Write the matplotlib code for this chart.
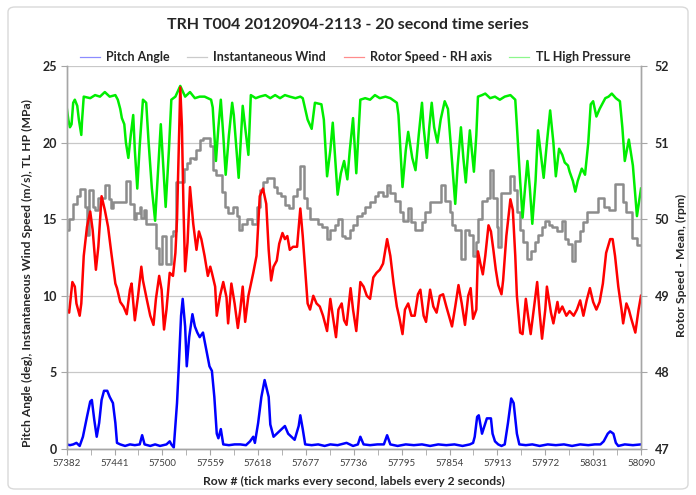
import numpy as np
import matplotlib.pyplot as plt
from matplotlib.lines import Line2D
from matplotlib.patches import FancyBboxPatch
from matplotlib.ticker import MultipleLocator, FixedLocator

plt.rcParams['font.family'] = ['Lato', 'DejaVu Sans']

# Pitch angle (deg), left axis
pitch_rows = [57382, 57386, 57390, 57394, 57398, 57402, 57407, 57411, 57413, 57416, 57419,
              57422, 57425, 57428, 57432, 57435, 57439, 57442, 57444, 57448, 57454, 57460,
              57466, 57472, 57475, 57478, 57485, 57491, 57497, 57505, 57509, 57511, 57514,
              57518, 57520, 57523, 57525, 57528, 57530, 57533, 57537, 57540, 57543, 57546,
              57550, 57554, 57558, 57561, 57564, 57567, 57569, 57572, 57575, 57582, 57589,
              57596, 57603, 57608, 57612, 57614, 57618, 57622, 57626, 57631, 57633, 57637,
              57641, 57647, 57651, 57655, 57659, 57663, 57668, 57670, 57673, 57676, 57684,
              57692, 57700, 57707, 57716, 57727, 57735, 57741, 57744, 57748, 57756, 57765,
              57773, 57777, 57781, 57790, 57800, 57810, 57820, 57830, 57840, 57850, 57860,
              57870, 57879, 57883, 57885, 57888, 57890, 57894, 57897, 57900, 57905, 57907,
              57910, 57914, 57918, 57922, 57926, 57930, 57933, 57937, 57940, 57948, 57956,
              57965, 57975, 57985, 57995, 58005, 58015, 58025, 58033, 58040, 58044, 58049,
              58052, 58056, 58059, 58062, 58070, 58080, 58090]
pitch_vals = [0.3, 0.25, 0.3, 0.4, 0.2, 0.8, 2.1, 3.1, 3.2, 1.9, 0.8,
              1.7, 3.2, 3.8, 3.8, 3.4, 3.0, 1.7, 0.4, 0.3, 0.2, 0.3,
              0.25, 0.3, 0.9, 0.3, 0.2, 0.3, 0.2, 0.3, 0.5, 0.3, 0.1,
              3.0, 5.2, 8.7, 9.8, 8.0, 5.4, 7.3, 8.8, 8.0, 7.6, 7.3,
              7.6, 6.5, 5.4, 5.1, 3.4, 1.0, 0.7, 1.3, 0.3, 0.25, 0.3,
              0.3, 0.25, 0.5, 0.8, 0.4, 1.7, 3.4, 4.5, 3.4, 1.6, 0.8,
              1.0, 1.3, 1.5, 1.0, 0.8, 0.6, 1.5, 2.2, 1.3, 0.3, 0.25,
              0.3, 0.2, 0.3, 0.25, 0.4, 0.2, 0.3, 0.8, 0.3, 0.25, 0.3,
              0.3, 0.9, 0.3, 0.2, 0.3, 0.25, 0.3, 0.2, 0.3, 0.25, 0.3,
              0.2, 0.3, 0.4, 0.8, 2.1, 2.2, 1.0, 1.5, 2.0, 2.0, 1.0,
              0.5, 0.3, 0.2, 0.3, 1.7, 3.3, 3.0, 1.0, 0.3, 0.25, 0.3,
              0.2, 0.3, 0.25, 0.3, 0.2, 0.3, 0.25, 0.3, 0.3, 0.5, 1.0,
              1.15, 1.0, 0.4, 0.2, 0.3, 0.25, 0.3]

# Instantaneous wind speed (m/s), left axis, stepped
wind_rows = [57382, 57385, 57390, 57395, 57398, 57404, 57407, 57409, 57414, 57417, 57421,
             57429, 57434, 57436, 57439, 57455, 57460, 57465, 57468, 57472, 57474, 57477,
             57480, 57492, 57496, 57500, 57504, 57511, 57513, 57517, 57526, 57530, 57534,
             57539, 57542, 57546, 57550, 57559, 57562, 57566, 57573, 57577, 57581, 57587,
             57592, 57595, 57598, 57604, 57610, 57616, 57620, 57624, 57629, 57637, 57641,
             57646, 57651, 57656, 57661, 57666, 57670, 57674, 57678, 57682, 57692, 57697,
             57703, 57707, 57713, 57717, 57721, 57725, 57731, 57735, 57740, 57746, 57750,
             57756, 57762, 57766, 57772, 57777, 57781, 57787, 57793, 57797, 57803, 57807,
             57811, 57820, 57824, 57830, 57844, 57848, 57854, 57857, 57861, 57868, 57873,
             57878, 57883, 57887, 57889, 57894, 57900, 57904, 57908, 57912, 57914, 57918,
             57929, 57933, 57937, 57941, 57945, 57949, 57954, 57959, 57963, 57968, 57972,
             57976, 57980, 57986, 57992, 57996, 58000, 58005, 58009, 58015, 58019, 58023,
             58037, 58044, 58050, 58058, 58068, 58072, 58079, 58085, 58090]
wind_vals = [14.3, 15.0, 16.0, 16.5, 17.0, 15.8, 14.0, 16.9, 15.8, 15.6, 16.4,
             17.2, 16.3, 15.7, 16.1, 17.5, 16.0, 15.0, 15.4, 15.8, 15.1, 15.6,
             14.7, 13.1, 12.1, 13.9, 12.1, 13.9, 14.2, 17.4, 18.3, 18.7, 19.0,
             18.9, 19.5, 20.2, 20.3, 19.8, 18.2, 17.9, 16.8, 15.8, 15.4, 15.8,
             15.2, 14.3, 14.7, 15.0, 14.7, 15.8, 16.9, 17.4, 17.7, 17.1, 16.7,
             16.5, 15.9, 15.7, 16.5, 17.0, 18.5, 16.4, 15.7, 15.0, 14.7, 14.5,
             13.7, 14.3, 14.6, 15.0, 13.9, 13.8, 14.3, 14.6, 15.2, 15.4, 15.8,
             16.1, 16.5, 16.8, 16.5, 17.2, 16.7, 16.2, 15.5, 14.9, 15.7, 14.8,
             14.3, 14.8, 15.5, 16.1, 17.2, 16.2, 15.5, 14.6, 14.3, 12.4, 14.3,
             14.0, 12.6, 13.5, 15.0, 16.2, 16.4, 18.2, 16.4, 14.5, 13.2, 16.7,
             17.8, 16.9, 15.5, 14.3, 13.5, 12.4, 12.9, 13.5, 14.0, 14.5, 14.9,
             14.6, 14.5, 14.2, 14.9, 13.7, 13.4, 12.3, 13.6, 14.2, 14.8, 15.5,
             16.4, 15.8, 15.6, 17.3, 16.1, 15.5, 13.8, 13.3, 13.3]

# Rotor speed mean (rpm), right axis
rotor_rows = [57382, 57385, 57389, 57392, 57394, 57398, 57400, 57403, 57407, 57411, 57414,
              57418, 57421, 57425, 57429, 57433, 57437, 57442, 57444, 57448, 57452, 57456,
              57460, 57462, 57466, 57470, 57474, 57476, 57481, 57485, 57489, 57492, 57496,
              57499, 57502, 57505, 57509, 57513, 57516, 57518, 57522, 57524, 57526, 57528,
              57531, 57534, 57538, 57542, 57545, 57548, 57552, 57556, 57559, 57561, 57565,
              57567, 57571, 57575, 57579, 57581, 57585, 57589, 57593, 57596, 57599, 57602,
              57606, 57612, 57616, 57620, 57624, 57628, 57631, 57634, 57637, 57641, 57644,
              57648, 57651, 57654, 57657, 57661, 57666, 57670, 57673, 57676, 57679, 57682,
              57686, 57690, 57694, 57698, 57703, 57707, 57710, 57714, 57717, 57721, 57724,
              57727, 57732, 57735, 57739, 57744, 57748, 57752, 57756, 57760, 57764, 57768,
              57772, 57777, 57781, 57785, 57789, 57792, 57796, 57799, 57803, 57807, 57811,
              57815, 57818, 57822, 57825, 57830, 57834, 57838, 57842, 57846, 57850, 57857,
              57861, 57865, 57869, 57873, 57877, 57880, 57883, 57887, 57889, 57892, 57895,
              57898, 57902, 57905, 57908, 57911, 57914, 57918, 57920, 57924, 57929, 57932,
              57935, 57937, 57941, 57944, 57948, 57951, 57954, 57958, 57962, 57965, 57968,
              57972, 57974, 57979, 57982, 57987, 57989, 57993, 57998, 58002, 58007, 58011,
              58015, 58019, 58023, 58027, 58031, 58035, 58039, 58043, 58047, 58052, 58055,
              58058, 58062, 58066, 58068, 58072, 58075, 58078, 58083, 58087, 58090]
rotor_vals = [48.82, 48.78, 49.18, 49.12, 48.90, 48.74, 48.90, 49.52, 49.90, 50.10, 49.86,
              49.34, 49.64, 50.30, 50.12, 49.90, 49.56, 49.16, 49.10, 48.92, 48.86, 48.76,
              49.08, 49.16, 48.68, 49.00, 49.38, 49.20, 48.94, 48.74, 48.62, 48.96, 49.26,
              49.08, 48.56, 48.82, 49.30, 49.26, 49.56, 50.00, 51.72, 51.22, 50.14, 49.32,
              49.70, 50.42, 49.94, 49.60, 49.84, 49.74, 49.52, 49.26, 49.38, 49.30, 49.12,
              48.74, 49.00, 49.18, 48.98, 48.64, 49.16, 48.90, 48.58, 48.82, 49.12, 48.66,
              49.00, 49.30, 49.52, 50.30, 50.40, 50.20, 49.60, 49.20, 49.38, 49.46, 49.68,
              49.82, 49.74, 49.78, 49.60, 49.64, 49.64, 50.14, 49.78, 49.34, 48.90, 48.82,
              49.00, 48.90, 48.86, 48.74, 48.54, 48.96, 48.74, 48.46, 48.82, 48.90, 48.68,
              48.62, 49.10, 48.82, 48.54, 49.18, 49.12, 49.00, 48.96, 49.24, 49.30, 49.34,
              49.42, 49.74, 49.52, 49.16, 48.86, 48.72, 48.50, 48.82, 48.90, 48.74, 48.74,
              49.02, 49.08, 48.74, 48.66, 49.08, 48.86, 48.78, 49.00, 49.02, 48.86, 48.60,
              48.86, 49.14, 48.90, 48.62, 49.00, 49.10, 48.70, 48.82, 49.58, 49.42, 49.28,
              49.52, 49.92, 49.84, 49.60, 49.34, 49.14, 49.02, 49.20, 49.78, 50.26, 50.12,
              49.52, 49.00, 48.52, 48.50, 48.96, 48.72, 48.50, 48.84, 49.18, 48.78, 48.44,
              48.82, 49.12, 48.78, 48.64, 48.92, 48.78, 48.86, 48.74, 48.80, 48.74, 48.82,
              48.94, 48.74, 48.94, 49.10, 48.92, 48.82, 48.92, 49.16, 49.56, 49.74, 49.74,
              49.52, 49.12, 48.82, 48.64, 48.90, 48.82, 48.70, 48.52, 48.82, 49.00]

# TL high pressure (MPa), left axis
tlhp_rows = [57382, 57384, 57386, 57388, 57390, 57392, 57395, 57397, 57400, 57401, 57403,
             57411, 57417, 57423, 57429, 57435, 57442, 57445, 57448, 57450, 57453, 57455,
             57458, 57461, 57464, 57466, 57469, 57472, 57476, 57480, 57483, 57487, 57491,
             57495, 57498, 57501, 57504, 57508, 57511, 57516, 57522, 57528, 57534, 57540,
             57546, 57552, 57560, 57562, 57566, 57569, 57572, 57575, 57578, 57582, 57586,
             57588, 57594, 57599, 57602, 57606, 57609, 57615, 57620, 57627, 57633, 57639,
             57645, 57651, 57657, 57664, 57670, 57673, 57679, 57684, 57688, 57696, 57699,
             57703, 57707, 57710, 57713, 57716, 57720, 57724, 57728, 57731, 57735, 57739,
             57744, 57750, 57756, 57762, 57768, 57775, 57781, 57789, 57791, 57796, 57800,
             57803, 57808, 57812, 57816, 57820, 57822, 57826, 57829, 57832, 57835, 57839,
             57843, 57848, 57852, 57856, 57861, 57864, 57868, 57871, 57874, 57877, 57879,
             57882, 57884, 57887, 57889, 57894, 57898, 57904, 57910, 57916, 57922, 57929,
             57935, 57937, 57941, 57944, 57947, 57950, 57953, 57956, 57960, 57963, 57967,
             57970, 57974, 57978, 57982, 57985, 57989, 57993, 57996, 58000, 58002, 58006,
             58009, 58012, 58017, 58021, 58025, 58028, 58031, 58035, 58039, 58046, 58050,
             58054, 58059, 58064, 58067, 58070, 58075, 58080, 58085, 58090]
tlhp_vals = [22.3, 21.5, 21.0, 21.2, 22.6, 22.8, 22.4, 21.5, 20.5, 21.5, 23.0,
             22.9, 23.1, 23.0, 23.3, 23.0, 23.1, 22.8, 22.2, 21.6, 21.2, 20.0,
             19.0, 20.5, 21.8, 19.5, 17.0, 19.8, 22.8, 22.6, 20.0, 17.0, 14.9,
             18.5, 21.2, 18.5, 15.8, 19.5, 22.8, 23.0, 23.7, 23.0, 23.3, 22.9,
             23.0, 23.0, 22.8, 22.3, 18.8, 21.0, 22.8, 20.5, 17.9, 20.5, 22.6,
             21.8, 17.7, 22.4, 21.0, 19.2, 23.1, 22.9, 23.0, 23.1, 22.9, 23.1,
             22.9, 23.1, 23.0, 22.9, 23.0, 22.9, 21.5, 20.9, 22.6, 22.5, 21.5,
             17.8, 19.5, 21.3, 19.0, 16.6, 18.0, 18.8, 17.6, 19.5, 21.6, 18.0,
             22.8, 22.9, 22.8, 23.1, 22.9, 23.0, 22.9, 22.6, 21.8, 17.1, 19.5,
             20.7, 19.0, 18.2, 20.5, 22.6, 21.0, 19.0, 21.0, 22.6, 21.0, 20.0,
             21.5, 22.7, 22.2, 19.5, 16.0, 18.5, 21.0, 19.0, 17.4, 19.5, 20.8,
             19.2, 18.1, 20.5, 23.0, 23.1, 23.2, 22.9, 23.0, 22.8, 23.0, 23.1,
             22.8, 21.1, 17.5, 15.1, 17.0, 18.8, 17.0, 14.7, 17.5, 20.8, 19.0,
             17.7, 20.0, 22.1, 20.0, 17.8, 19.6, 19.2, 18.7, 18.5, 18.1, 17.5,
             16.8, 17.5, 18.3, 17.9, 20.0, 22.5, 22.7, 21.7, 22.2, 22.9, 23.0,
             23.2, 22.9, 22.7, 21.0, 18.8, 20.2, 18.5, 15.2, 17.0]

x_first, x_last = 57382, 58090
label_step = 59
series_names = ['Pitch Angle', 'Instantaneous Wind', 'Rotor Speed - RH axis', 'TL High Pressure']

c_blue = '#0000ff'
c_gray = '#8c8c8c'
c_red = '#ff0000'
c_green = '#00ee00'
c_axis = '#a6a6a6'
lw = 1.8

fig = plt.figure(figsize=(6.96, 4.95), dpi=100)
frame = FancyBboxPatch((8 / 696, 6 / 495), 680 / 696, 482 / 495,
                       boxstyle='round,pad=0,rounding_size=0.01',
                       transform=fig.transFigure, facecolor='none',
                       edgecolor='#d9d9d9', linewidth=1.0, zorder=-5)
fig.patches.append(frame)

ax = fig.add_axes([66.7 / 696, 46 / 495, 574.3 / 696, 383 / 495])
ax.set_facecolor('none')
ax2 = ax.twinx()

ax.plot(pitch_rows, pitch_vals, color=c_blue, lw=lw)
ax.plot(wind_rows, wind_vals, color=c_gray, lw=lw, drawstyle='steps-post')
ax.plot(tlhp_rows, tlhp_vals, color=c_green, lw=lw)
ax2.plot(rotor_rows, rotor_vals, color=c_red, lw=lw)

ax.set_xlim(x_first, x_last)
ax.set_ylim(0, 25)
ax2.set_ylim(47, 52)

ax.xaxis.set_major_locator(FixedLocator(np.arange(x_first, x_last + 1, label_step)))
ax.xaxis.set_minor_locator(FixedLocator(np.arange(x_first, x_last + 1, label_step / 2)))
ax.yaxis.set_major_locator(MultipleLocator(5))
ax2.yaxis.set_major_locator(MultipleLocator(1))

ax.grid(axis='y', color='#c8c8c8', lw=0.9)
ax.set_axisbelow(True)

for a in (ax, ax2):
    a.spines['top'].set_visible(False)
    for s in ('left', 'right', 'bottom'):
        a.spines[s].set_color(c_axis)
        a.spines[s].set_linewidth(1.0)

ax.tick_params(axis='x', which='both', direction='out', length=4, color=c_axis,
               labelsize=7, pad=3, labelcolor='#404040')
ax.tick_params(axis='y', direction='out', length=4, color=c_axis, labelsize=9, pad=3)
ax2.tick_params(axis='y', direction='out', length=4, color=c_axis, labelsize=9, pad=6)
for lab in ax.get_yticklabels() + ax2.get_yticklabels():
    lab.set_fontweight('bold')
    lab.set_color('#262626')

ax.set_ylabel('Pitch Angle (deg), Instantaneous Wind Speed (m/s), TL HP (MPa)',
              fontsize=8.7, fontweight='bold', color='#262626')
ax.yaxis.set_label_coords(-0.058, 0.46)
ax2.set_ylabel('Rotor Speed - Mean, (rpm)', fontsize=8.7, fontweight='bold',
               color='#262626')
ax2.yaxis.set_label_coords(1.06, 0.48)
ax.set_xlabel('Row # (tick marks every second, labels every 2 seconds)',
              fontsize=8.7, fontweight='bold', color='#262626', labelpad=6)

fig.text(0.5, 1 - 25 / 495, 'TRH T004 20120904-2113 - 20 second time series',
         ha='center', va='center', fontsize=11.5, fontweight='bold', color='#262626')

handles = [Line2D([], [], color=c, lw=0.9, alpha=0.45)
           for c in (c_blue, c_gray, c_red, c_green)]
fig.legend(handles, series_names, loc='center', bbox_to_anchor=(0.51, 1 - 57 / 495),
           ncol=4, frameon=False, handlelength=1.6, handletextpad=0.5, columnspacing=1.4,
           prop={'size': 9, 'weight': 'bold'}, labelcolor='#262626')

fig.savefig('out.png', dpi=100)
